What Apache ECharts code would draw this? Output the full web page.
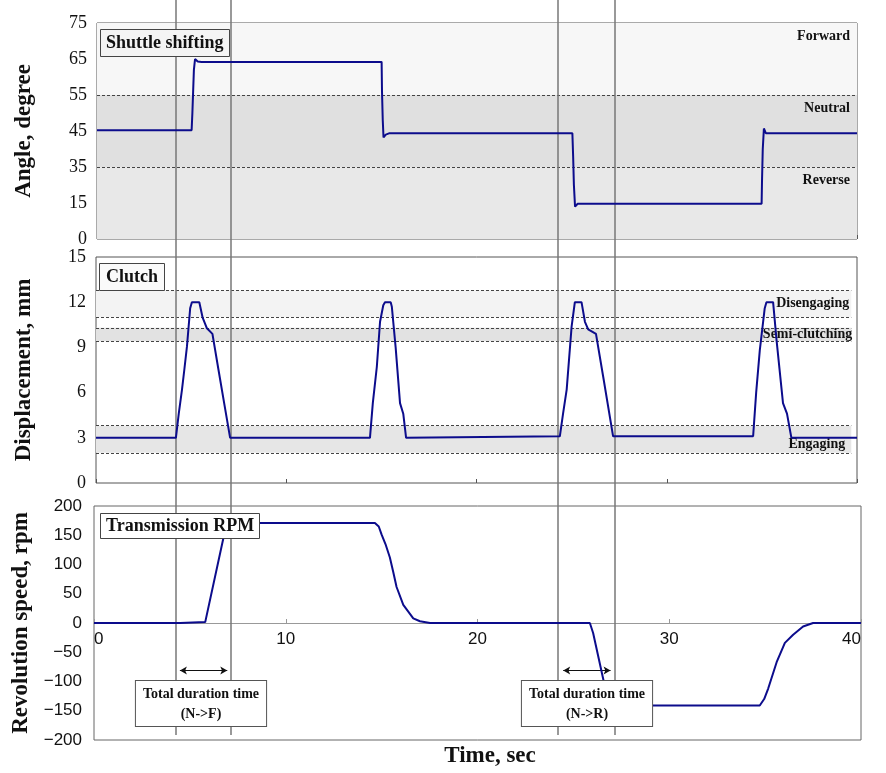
<!DOCTYPE html>
<html>
<head>
<meta charset="utf-8">
<script src="https://cdn.jsdelivr.net/npm/echarts@6/dist/echarts.min.js"></script>
<style>
html,body{margin:0;padding:0;background:#fff;}
#chart{width:886px;height:773px;}
</style>
</head>
<body>
<div id="chart"></div>
<script>
// ---------- DATA ----------
// Panel 1: shuttle lever angle (values in axis units; ticks relabelled below)
const angleTime  = [0, 4.98, 5.02, 5.06, 5.1, 5.16, 5.3, 5.5, 14.98, 15.0, 15.04, 15.08, 15.2, 15.4, 25.02, 25.06, 25.1, 25.16, 25.3, 34.98, 35.0, 35.04, 35.1, 35.2, 40];
const angleValue = [45.2, 45.2, 50, 56, 62, 65, 64.3, 64.2, 64.2, 56, 48, 43.2, 44.0, 44.4, 44.4, 38, 30, 24.0, 24.8, 24.8, 31, 40, 45.7, 44.4, 44.4];
const angleTickPos = [15, 25, 35, 45, 55, 65, 75];
const angleTickLabels = ['0', '15', '35', '45', '55', '65', '75'];
const angleZones = [
  {name: 'Reverse', from: 15, to: 35},
  {name: 'Neutral', from: 35, to: 55},
  {name: 'Forward', from: 55, to: 75}
];

// Panel 2: clutch displacement (mm)
const clutchTime  = [0, 4.2, 4.35, 4.52, 4.65, 4.78, 4.95, 5.04, 5.43, 5.6, 5.83, 6.12, 6.44, 6.75, 7.05,
                     14.4, 14.55, 14.76, 14.93, 15.1, 15.19, 15.49, 15.55, 15.75, 15.98, 16.15, 16.3,
                     24.38, 24.55, 24.74, 25.0, 25.17, 25.52, 25.7, 25.87, 26.28, 26.66, 27.18,
                     34.54, 34.7, 34.89, 35.15, 35.24, 35.59, 35.77, 36.11, 36.32, 36.55, 40];
const clutchValue = [3.0, 3.0, 4.6, 6.2, 7.6, 9.05, 11.6, 12.0, 12.0, 11.0, 10.27, 9.9, 7.5, 5.2, 3.0,
                     3.0, 5.3, 7.7, 10.7, 11.8, 12.0, 12.0, 11.7, 9.0, 5.3, 4.6, 3.0,
                     3.1, 4.6, 6.2, 10.4, 12.0, 12.0, 10.7, 10.2, 9.9, 7.05, 3.1,
                     3.1, 6.0, 8.8, 11.6, 12.0, 12.0, 9.5, 5.3, 4.6, 3.0, 3.0];
const clutchBands = [
  {name: 'Disengaging', from: 11.0, to: 12.8},
  {name: 'Semi-clutching', from: 9.4, to: 10.3},
  {name: 'Engaging', from: 2.0, to: 3.8}
];
const clutchDashed = [12.8, 11.0, 10.3, 9.4, 3.8, 2.0];

// Panel 3: transmission revolution speed (rpm)
const rpmTime  = [0, 4.5, 4.6, 5.8, 5.88, 6.78, 6.92, 14.65, 14.85, 15.0, 15.2, 15.43, 15.6, 15.78, 16.13, 16.65, 17.0, 17.52,
                  25.86, 26.03, 26.29, 26.55, 26.75, 26.95, 34.72, 34.95, 35.16, 35.6, 36.03, 36.46, 36.98, 37.5, 40];
const rpmValue = [0, 0, 1.5, 1.5, 0, 150, 171, 171, 165, 151, 135, 112, 88, 61.5, 31, 8, 3, 0,
                  0, -17, -56, -95, -125, -141, -141, -130, -112, -67, -34, -20, -6, 0, 0];
const rpmTicks = [-200, -150, -100, -50, 0, 50, 100, 150, 200];

// Shift event markers (sec) and duration arrows
const markerTimes = [4.14, 7.04, 24.25, 27.23];
const arrowSpans = [[4.48, 6.95], [24.47, 26.94]];
const arrowLevel = -81;
const timeTicks = [0, 10, 20, 30, 40];

// ---------- CHART ----------
const SERIF = '"Liberation Serif", "Times New Roman", serif';
const SANS = '"Liberation Sans", Arial, sans-serif';
const LINE = '#0c0c8c';
const zip = (a, b) => a.map((t, i) => [t, b[i]]);

const chart = echarts.init(document.getElementById('chart'));

const nameStyle = {fontFamily: SERIF, fontWeight: 'bold', fontSize: 23, color: '#111'};
const boxText = {fontFamily: SERIF, fontWeight: 'bold', fontSize: 18, color: '#111'};

// bottom panel geometry (used to place the time axis on the zero line)
const g2Top = 506, g2Height = 234;
const zeroOffset = -g2Height * (0 - rpmTicks[0]) / (rpmTicks[rpmTicks.length - 1] - rpmTicks[0]);

const option = {
  animation: false,
  backgroundColor: '#fff',
  title: [
    {text: 'Shuttle shifting', left: 100, top: 29, padding: [5, 6, 5, 6], borderColor: '#444', borderWidth: 1,
     backgroundColor: '#f4f4f4', z: 20, textStyle: boxText},
    {text: 'Clutch', left: 99, top: 263, padding: [5, 7, 5, 7], borderColor: '#444', borderWidth: 1,
     backgroundColor: '#fafafa', z: 20, textStyle: boxText},
    {text: 'Transmission RPM', left: 100, top: 513, padding: [4, 6, 4, 6], borderColor: '#444', borderWidth: 1,
     backgroundColor: '#fff', z: 20, textStyle: boxText},
    {text: 'Time, sec', left: 490, top: 745, textAlign: 'center', padding: 0, z: 20,
     textStyle: {fontFamily: SERIF, fontWeight: 'bold', fontSize: 23, color: '#111'}}
  ],
  grid: [
    {left: 97, top: 23, width: 760, height: 216, show: true, borderColor: '#555', borderWidth: 1, backgroundColor: 'transparent'},
    {left: 96, top: 257, width: 761, height: 226, show: true, borderColor: '#555', borderWidth: 1, backgroundColor: 'transparent'},
    {left: 94, top: g2Top, width: 767, height: g2Height, show: true, borderColor: '#666', borderWidth: 1, backgroundColor: 'transparent'},
    {left: 97, top: 0, width: 760, height: 735, show: false}
  ],
  xAxis: [
    {type: 'value', gridIndex: 0, min: 0, max: 40, interval: 10, axisLine: {show: false},
     axisTick: {show: true, inside: true, length: 4, lineStyle: {color: '#555'}}, axisLabel: {show: false}, splitLine: {show: false}},
    {type: 'value', gridIndex: 1, min: 0, max: 40, interval: 10, axisLine: {show: false},
     axisTick: {show: true, inside: true, length: 4, lineStyle: {color: '#555'}}, axisLabel: {show: false}, splitLine: {show: false}},
    {type: 'value', gridIndex: 2, min: timeTicks[0], max: timeTicks[timeTicks.length - 1], interval: 10,
     position: 'bottom', offset: zeroOffset,
     axisLine: {show: true, onZero: false, lineStyle: {color: '#999', width: 1}},
     axisTick: {show: true, inside: true, length: 4, lineStyle: {color: '#999'}},
     axisLabel: {show: true, margin: 8, fontFamily: SANS, fontSize: 17, color: '#111', alignMinLabel: 'left', alignMaxLabel: 'right'},
     splitLine: {show: false}},
    {type: 'value', gridIndex: 3, min: 0, max: 40, show: false}
  ],
  yAxis: [
    {type: 'value', gridIndex: 0, min: angleTickPos[0], max: angleTickPos[angleTickPos.length - 1], interval: 10,
     axisLine: {show: false}, axisTick: {show: false}, splitLine: {show: false},
     axisLabel: {margin: 10, fontFamily: SERIF, fontSize: 18, color: '#111',
       formatter: v => angleTickLabels[angleTickPos.indexOf(v)]},
     name: 'Angle, degree', nameLocation: 'middle', nameGap: 61, nameTextStyle: nameStyle},
    {type: 'value', gridIndex: 1, min: 0, max: 15, interval: 3,
     axisLine: {show: false}, axisTick: {show: false}, splitLine: {show: false},
     axisLabel: {margin: 10, fontFamily: SERIF, fontSize: 18, color: '#111'},
     name: 'Displacement, mm', nameLocation: 'middle', nameGap: 60, nameTextStyle: nameStyle},
    {type: 'value', gridIndex: 2, min: rpmTicks[0], max: rpmTicks[rpmTicks.length - 1], interval: 50,
     axisLine: {show: false}, axisTick: {show: false}, splitLine: {show: false},
     axisLabel: {margin: 12, fontFamily: SANS, fontSize: 17, color: '#111',
       formatter: v => (v < 0 ? '\u2212' + Math.abs(v) : String(v))},
     name: 'Revolution speed, rpm', nameLocation: 'middle', nameGap: 58, nameTextStyle: nameStyle},
    {type: 'value', gridIndex: 3, min: 0, max: 1, show: false}
  ],
  series: [
    {
      type: 'line', xAxisIndex: 0, yAxisIndex: 0, data: zip(angleTime, angleValue),
      showSymbol: false, lineStyle: {color: LINE, width: 2}, z: 5,
      markArea: {
        silent: true,
        data: angleZones.map((zn, i) => [
          {name: zn.name, yAxis: zn.from,
           itemStyle: {color: ['#e8e8e8', '#e0e0e0', '#f7f7f7'][i]},
           label: {show: true, position: 'insideTopRight', offset: [-2, 1], fontFamily: SERIF, fontWeight: 'bold', fontSize: 14, color: '#111'}},
          {yAxis: zn.to}
        ])
      },
      markLine: {
        silent: true, symbol: 'none', label: {show: false},
        lineStyle: {color: '#444', type: [3, 2], width: 1},
        data: [{yAxis: angleZones[0].to}, {yAxis: angleZones[1].to}]
      }
    },
    {
      type: 'line', xAxisIndex: 1, yAxisIndex: 1, data: zip(clutchTime, clutchValue),
      showSymbol: false, lineStyle: {color: LINE, width: 2}, z: 5,
      markArea: {
        silent: true,
        data: clutchBands.map((b, i) => [
          {name: b.name, coord: [0, b.from],
           itemStyle: {color: ['#f3f3f3', '#e2e2e2', '#e6e6e6'][i]},
           label: {show: true, position: 'insideRight', offset: [[3, 0], [6, 0], [-1, 5]][i], fontFamily: SERIF, fontWeight: 'bold', fontSize: 14, color: '#111'}},
          {coord: [39.7, b.to]}
        ])
      },
      markLine: {
        silent: true, symbol: 'none', label: {show: false},
        lineStyle: {color: '#444', type: [3, 2], width: 1},
        data: clutchDashed.map(v => [{coord: [0, v]}, {coord: [39.7, v]}])
      }
    },
    {
      type: 'line', xAxisIndex: 2, yAxisIndex: 2, data: zip(rpmTime, rpmValue),
      showSymbol: false, lineStyle: {color: LINE, width: 2}, z: 5,
      markLine: {
        silent: true, symbol: ['arrow', 'arrow'], symbolSize: [6, 7], label: {show: false},
        lineStyle: {color: '#111', type: 'solid', width: 1},
        data: arrowSpans.map(s => [{coord: [s[0], arrowLevel]}, {coord: [s[1], arrowLevel]}])
      }
    },
    {
      type: 'line', xAxisIndex: 3, yAxisIndex: 3, data: [], z: 8,
      markLine: {
        silent: true, symbol: 'none', label: {show: false},
        lineStyle: {color: '#777', type: 'solid', width: 1.5},
        data: markerTimes.map(t => ({xAxis: t}))
      }
    }
  ],
  graphic: [
    {type: 'text', x: 201, y: 681, z: 100,
     style: {text: 'Total duration time\n(N->F)', align: 'center', verticalAlign: 'top',
       font: 'bold 14px ' + SERIF, lineHeight: 20, fill: '#111',
       backgroundColor: '#fff', borderColor: '#555', borderWidth: 1, padding: [3, 7, 2, 7]}},
    {type: 'text', x: 587, y: 681, z: 100,
     style: {text: 'Total duration time\n(N->R)', align: 'center', verticalAlign: 'top',
       font: 'bold 14px ' + SERIF, lineHeight: 20, fill: '#111',
       backgroundColor: '#fff', borderColor: '#555', borderWidth: 1, padding: [3, 7, 2, 7]}}
  ]
};

chart.setOption(option);
</script>
</body>
</html>
